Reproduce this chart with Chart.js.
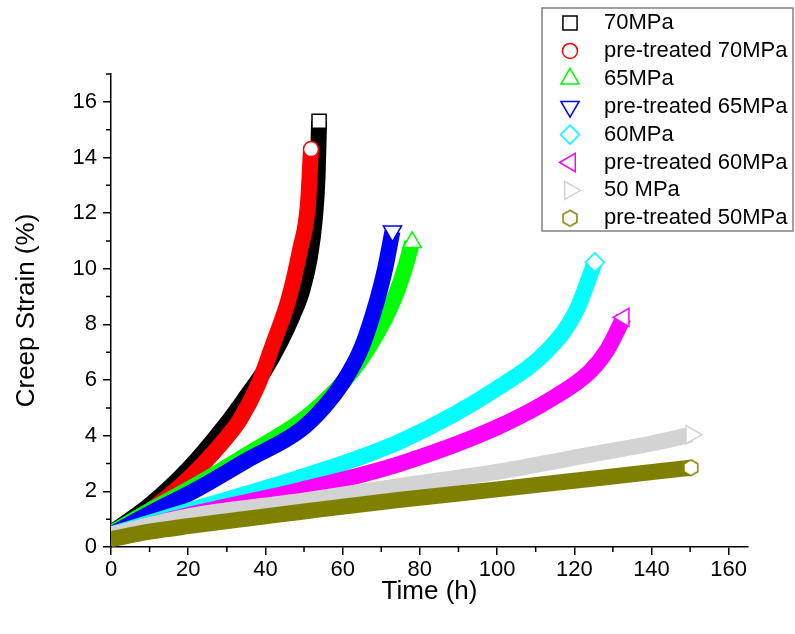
<!DOCTYPE html>
<html lang="en">
<head>
    <meta charset="UTF-8">
    <title>Creep Strain vs Time</title>
    <script src="https://cdn.jsdelivr.net/npm/chart.js"></script>
    <style>
        html, body { margin: 0; padding: 0; background: #fff; }
    </style>
</head>
<body>
    <canvas id="creepChart" width="795" height="634"></canvas>

    <script>
        // series labels, in plotting order
        const seriesLabels = ['70MPa', 'pre-treated 70MPa', '65MPa', 'pre-treated 65MPa',
                              '60MPa', 'pre-treated 60MPa', '50 MPa', 'pre-treated 50MPa'];

        // values: time (h) and creep strain (%)
        const time70 = [0, 10, 20, 30, 35, 40, 44, 47, 49.5, 51.5, 52.8, 53.5, 53.9];
        const strain70 = [0.5, 1.5, 2.8, 4.45, 5.4, 6.4, 7.4, 8.3, 9.2, 10.4, 11.8, 13.3, 15.3];

        const timePre70 = [0, 10, 20, 30, 33.5, 38, 42, 46, 49, 51, 51.8];
        const strainPre70 = [0.45, 1.3, 2.45, 3.95, 4.6, 5.8, 7.3, 8.9, 10.7, 12.3, 14.3];

        const time65 = [0, 10, 23, 35, 49, 55, 60, 65, 69, 72, 74.4, 76.3, 78];
        const strain65 = [0.5, 1.3, 2.3, 3.3, 4.5, 5.2, 5.9, 6.8, 7.7, 8.5, 9.3, 10.1, 10.95];

        const timePre65 = [0, 10, 23, 35, 49, 55, 60, 65, 69, 71, 72.9];
        const strainPre65 = [0.45, 1.2, 2.13, 3.1, 4.2, 5.0, 5.9, 7.2, 8.9, 10, 11.35];

        const time60 = [0, 20, 49, 75, 100, 113.3, 120.3, 125.3];
        const strain60 = [0.45, 1.3, 2.5, 3.8, 5.7, 7.1, 8.43, 10.23];

        const timePre60 = [0, 20, 49, 75, 100, 115, 124, 128.6, 132.8];
        const strainPre60 = [0.42, 1.15, 2.05, 3.0, 4.3, 5.4, 6.3, 7.1, 8.25];

        const time50 = [0, 20, 49, 75, 100, 127, 140, 150.3];
        const strain50 = [0.45, 1.1, 1.65, 2.2, 2.7, 3.39, 3.72, 4.04];

        const timePre50 = [0, 10, 20, 49, 75, 100, 127, 150.2];
        const strainPre50 = [0.28, 0.55, 0.75, 1.26, 1.7, 2.07, 2.49, 2.85];

        // axis ticks
        const xTicks = [0, 20, 40, 60, 80, 100, 120, 140, 160];
        const xMinorTicks = [10, 30, 50, 70, 90, 110, 130, 150];
        const yTicks = [0, 2, 4, 6, 8, 10, 12, 14, 16];
        const yMinorTicks = [1, 3, 5, 7, 9, 11, 13, 15, 17];

        const times = [time70, timePre70, time65, timePre65, time60, timePre60, time50, timePre50];
        const strains = [strain70, strainPre70, strain65, strainPre65, strain60, strainPre60, strain50, strainPre50];

        const colors = ['#000000', '#ff0000', '#00ff00', '#0000ff', '#00ffff', '#ff00ff', '#d3d3d3', '#808000'];

        // hexagon marker (no built-in style for it)
        function makeHexagon(r, color) {
            const c = document.createElement('canvas');
            c.width = Math.ceil(2 * r + 4);
            c.height = Math.ceil(2 * r + 4);
            const g = c.getContext('2d');
            g.beginPath();
            for (let k = 0; k < 6; k++) {
                const a = Math.PI / 3 * k;
                g.lineTo(c.width / 2 + r * Math.sin(a), c.height / 2 - r * Math.cos(a));
            }
            g.closePath();
            g.fillStyle = '#fff';
            g.fill();
            g.strokeStyle = color;
            g.lineWidth = 1.5;
            g.stroke();
            return c;
        }

        const markerStyles = ['rect', 'circle', 'triangle', 'triangle', 'rectRot', 'triangle', 'triangle', makeHexagon(8, '#808000')];
        const markerRotations = [0, 0, 0, 180, 0, 270, 90, 0];
        const markerRadii = [10, 7.5, 10.5, 10.5, 9.5, 10.5, 10.5, 8];

        const datasets = seriesLabels.map((label, i) => ({
            label: label,
            data: times[i].map((t, j) => ({ x: t, y: strains[i][j] })),
            showLine: true,
            borderColor: colors[i],
            backgroundColor: colors[i],
            borderWidth: 16,
            borderJoinStyle: 'round',
            cubicInterpolationMode: 'monotone',
            clip: 0,
            order: seriesLabels.length - i,
            pointStyle: markerStyles[i],
            pointRotation: markerRotations[i],
            markerRadius: markerRadii[i],
            pointRadius: ctx => ctx.dataIndex === times[i].length - 1 ? markerRadii[i] : 0,
            pointBackgroundColor: '#fff',
            pointBorderColor: colors[i],
            pointBorderWidth: 1.5
        }));

        const fontFamily = '"Liberation Sans", Arial, sans-serif';

        const minorTickPlugin = {
            id: 'minorTicks',
            afterDraw(chart) {
                const { ctx, chartArea, scales: { x, y } } = chart;
                ctx.save();
                ctx.strokeStyle = '#000';
                ctx.lineWidth = 1.5;
                ctx.beginPath();
                xMinorTicks.forEach(v => {
                    const px = x.getPixelForValue(v);
                    ctx.moveTo(px, chartArea.bottom);
                    ctx.lineTo(px, chartArea.bottom + 5);
                });
                yMinorTicks.forEach(v => {
                    const py = y.getPixelForValue(v);
                    ctx.moveTo(chartArea.left, py);
                    ctx.lineTo(chartArea.left - 5, py);
                });
                ctx.stroke();
                ctx.restore();
            }
        };

        const legendBoxPlugin = {
            id: 'legendBox',
            afterDraw(chart) {
                const ctx = chart.ctx;
                ctx.save();
                ctx.fillStyle = '#fff';
                ctx.fillRect(542, 8, 251, 223);
                ctx.strokeStyle = '#808080';
                ctx.lineWidth = 1.5;
                ctx.strokeRect(542, 8, 251, 223);
                chart.data.datasets.forEach((ds, i) => {
                    const y = 23 + i * 27.9;
                    ctx.strokeStyle = ds.borderColor;
                    ctx.fillStyle = '#fff';
                    ctx.lineWidth = 1.5;
                    Chart.helpers.drawPoint(ctx, {
                        pointStyle: ds.pointStyle,
                        rotation: ds.pointRotation,
                        radius: ds.markerRadius,
                        borderWidth: 1.5
                    }, 570, y);
                    ctx.fillStyle = '#000';
                    ctx.font = '22px ' + fontFamily;
                    ctx.textBaseline = 'middle';
                    ctx.textAlign = 'left';
                    ctx.fillText(ds.label, 604, y);
                });
                ctx.restore();
            }
        };

        new Chart(document.getElementById('creepChart'), {
            type: 'scatter',
            data: { datasets: datasets },
            options: {
                responsive: false,
                animation: false,
                events: [],
                layout: { padding: { left: 0, top: 74, right: 47, bottom: 0 } },
                plugins: {
                    legend: { display: false },
                    tooltip: { enabled: false }
                },
                scales: {
                    x: {
                        type: 'linear',
                        min: 0,
                        max: 165,
                        afterBuildTicks: scale => { scale.ticks = xTicks.map(v => ({ value: v })); },
                        afterFit: scale => { scale.height = 87; },
                        ticks: {
                            color: '#000',
                            padding: 2,
                            font: { size: 22, family: fontFamily }
                        },
                        grid: { drawOnChartArea: false, tickLength: 8, color: '#000', lineWidth: 1.5 },
                        border: { color: '#000', width: 1.5 },
                        title: {
                            display: true,
                            text: 'Time (h)',
                            color: '#000',
                            padding: { top: 0, bottom: 27 },
                            font: { size: 26, family: fontFamily }
                        }
                    },
                    y: {
                        type: 'linear',
                        min: 0,
                        max: 17,
                        afterBuildTicks: scale => { scale.ticks = yTicks.map(v => ({ value: v })); },
                        afterFit: scale => { scale.width = 111; },
                        ticks: {
                            color: '#000',
                            padding: 6,
                            font: { size: 22, family: fontFamily }
                        },
                        grid: { drawOnChartArea: false, tickLength: 8, color: '#000', lineWidth: 1.5 },
                        border: { color: '#000', width: 1.5 },
                        title: {
                            display: true,
                            text: 'Creep Strain (%)',
                            color: '#000',
                            padding: { top: 11, bottom: 0 },
                            font: { size: 26, family: fontFamily }
                        }
                    }
                }
            },
            plugins: [minorTickPlugin, legendBoxPlugin]
        });
    </script>
</body>
</html>
